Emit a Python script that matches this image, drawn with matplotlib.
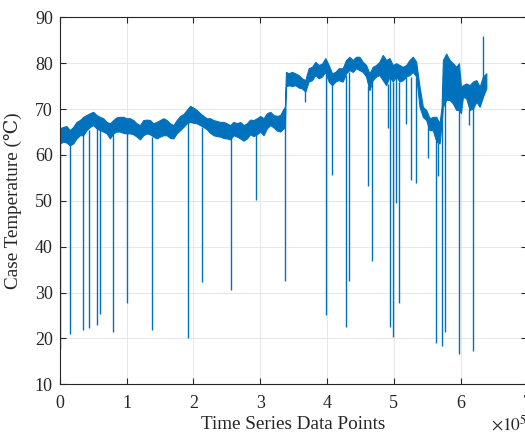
"""Case temperature time series with dropout spikes (MATLAB-style figure)."""

import matplotlib

matplotlib.use("Agg")
import matplotlib.pyplot as plt
from matplotlib.ticker import FuncFormatter, MultipleLocator

LINE = "#0072BD"
FONT = ["Liberation Serif", "DejaVu Serif", "DejaVu Sans"]

# band of the noisy signal: sample index, upper and lower envelope (deg C)
band_x = [
    0, 5000, 10000, 15000, 20000, 25000, 30000, 35000, 40000, 45000,
    50000, 55000, 60000, 65000, 70000, 75000, 80000, 85000, 90000, 95000,
    100000, 105000, 110000, 115000, 120000, 125000, 130000, 135000, 140000, 145000,
    150000, 155000, 160000, 165000, 170000, 175000, 180000, 185000, 190000, 195000,
    200000, 205000, 210000, 215000, 220000, 225000, 230000, 235000, 240000, 245000,
    250000, 255000, 260000, 265000, 270000, 275000, 280000, 285000, 290000, 295000,
    300000, 305000, 310000, 315000, 320000, 325000, 330000, 335000, 337000, 338500,
    342500, 347500, 352500, 357500, 362500, 367500, 372500, 377500, 382500, 387500,
    392500, 397500, 402500, 407500, 412500, 417500, 423500, 428500, 433500, 438500,
    443500, 448500, 453500, 458500, 463500, 468500, 473500, 478500, 483500, 488500,
    493500, 498500, 503500, 508500, 513500, 518500, 523500, 528500, 533500, 538500,
    543500, 548500, 553500, 558500, 563500, 568500, 571500, 573500, 578500, 583500,
    588500, 593500, 597500, 600500, 603500, 608500, 613500, 618500, 623500, 628500,
    633500, 638500,
]
band_hi = [
    65.8, 66.1, 66.3, 65.4, 66.1, 67.2, 67.6, 68.3, 68.7, 69.1,
    69.4, 68.7, 68.3, 68.0, 67.2, 66.9, 67.6, 68.2, 68.3, 68.3,
    68.0, 68.0, 67.6, 66.9, 66.5, 67.6, 67.7, 67.6, 66.9, 67.2,
    67.6, 68.0, 67.6, 66.9, 66.5, 67.6, 68.5, 68.9, 69.8, 70.7,
    70.3, 69.8, 69.1, 68.5, 68.0, 68.0, 67.6, 67.4, 67.2, 67.2,
    66.9, 66.5, 67.2, 66.9, 67.2, 66.5, 66.9, 67.7, 67.6, 68.0,
    68.5, 68.0, 69.1, 69.4, 68.7, 68.5, 68.7, 70.1, 70.5, 78.1,
    77.8, 78.1, 77.8, 77.4, 76.7, 76.3, 78.9, 79.2, 80.3, 79.6,
    79.9, 81.1, 79.6, 77.8, 78.1, 78.9, 78.9, 80.7, 81.4, 80.7,
    81.4, 81.4, 80.3, 79.6, 77.8, 79.2, 79.6, 80.3, 81.8, 80.7,
    81.1, 79.6, 80.0, 79.6, 79.2, 79.6, 80.7, 81.4, 80.3, 74.9,
    70.5, 69.8, 68.0, 68.3, 68.3, 66.9, 70.5, 80.7, 82.1, 80.7,
    80.0, 79.2, 80.0, 74.9, 75.2, 75.6, 75.2, 76.0, 76.3, 74.9,
    77.1, 77.8,
]
band_lo = [
    62.5, 62.9, 62.7, 62.1, 62.5, 63.6, 64.3, 64.3, 65.4, 66.1,
    66.5, 65.8, 65.4, 65.1, 64.7, 63.6, 64.7, 65.1, 65.1, 64.8,
    64.7, 64.7, 64.5, 64.0, 63.4, 64.3, 64.7, 64.5, 64.0, 63.6,
    64.0, 64.3, 64.3, 63.7, 63.6, 64.7, 65.4, 66.1, 66.9, 67.2,
    67.0, 66.9, 66.5, 66.1, 65.6, 64.8, 64.3, 64.1, 64.0, 63.7,
    63.6, 63.4, 64.3, 64.0, 63.6, 63.1, 63.6, 64.5, 64.1, 64.5,
    65.1, 64.3, 65.8, 66.5, 66.0, 65.3, 65.1, 65.8, 66.1, 74.9,
    75.2, 75.0, 75.2, 74.7, 74.5, 73.8, 76.0, 76.3, 77.4, 76.7,
    77.1, 78.1, 76.0, 75.2, 76.0, 76.3, 76.0, 77.8, 78.5, 78.1,
    78.9, 78.5, 78.1, 77.1, 74.1, 76.3, 77.1, 77.4, 76.3, 75.2,
    77.1, 76.0, 77.1, 76.0, 76.3, 77.1, 77.4, 78.1, 77.1, 70.5,
    68.3, 67.6, 65.4, 65.4, 62.9, 62.5, 66.9, 70.5, 72.0, 72.0,
    71.2, 69.8, 69.8, 69.1, 72.7, 72.3, 69.8, 70.1, 71.6, 70.5,
    72.7, 74.5,
]

# isolated spikes: sample index, bottom and top of each excursion (deg C)
spike_x = [
    0, 16000, 34000, 44000, 55000, 60500, 79500, 100000, 138500, 191500,
    213000, 257000, 293500, 337500, 367500, 398500, 408000, 429000, 433000, 462000,
    467500, 491000, 494000, 499500, 503000, 507500, 518500, 525000, 533500, 550500,
    562500, 566000, 572500, 576500, 598000, 612500, 618500, 634000,
]
spike_lo = [
    17.8, 20.9, 21.8, 22.3, 23.0, 25.4, 21.4, 27.8, 21.9, 20.1,
    32.2, 30.5, 50.2, 32.5, 71.6, 25.0, 55.7, 22.5, 32.6, 53.3,
    36.8, 65.9, 22.5, 20.4, 49.5, 27.8, 66.7, 54.5, 53.9, 59.3,
    19.1, 55.4, 18.4, 21.3, 16.7, 66.5, 17.2, 76.0,
]
spike_hi = [
    63.0, 62.5, 64.5, 65.5, 66.0, 65.5, 64.5, 64.7, 64.0, 67.0,
    66.0, 64.0, 64.5, 70.0, 74.0, 78.0, 75.5, 77.5, 78.0, 75.0,
    76.0, 75.5, 77.0, 76.0, 77.0, 76.0, 77.0, 77.0, 77.0, 67.6,
    63.0, 62.5, 70.0, 72.0, 70.0, 70.0, 70.5, 85.9,
]

plt.rcParams.update({"font.family": FONT, "mathtext.fontset": "stix"})

fig = plt.figure(figsize=(5.25, 4.34), dpi=100)
ax = fig.add_axes([0.1139, 0.1145, 0.8907, 0.8456])

ax.fill_between(band_x, band_lo, band_hi, color=LINE, linewidth=0.8, edgecolor=LINE)
ax.vlines(spike_x, spike_lo, spike_hi, color=LINE, linewidth=1.0)

ax.set_xlim(0, 7e5)
ax.set_ylim(10, 90)
ax.xaxis.set_major_locator(MultipleLocator(1e5))
ax.yaxis.set_major_locator(MultipleLocator(10))
ax.xaxis.set_major_formatter(FuncFormatter(lambda v, _: f"{v / 1e5:g}"))
ax.grid(True, color="#e3e3e3", linewidth=0.6)
ax.set_axisbelow(True)
ax.tick_params(direction="in", length=4, width=0.8, top=True, right=True,
               labelsize=13, colors="#262626")
ax.tick_params(axis="x", pad=8)
ax.tick_params(axis="y", pad=5)
for s in ax.spines.values():
    s.set_linewidth(0.8)
    s.set_color("#262626")

ax.set_xlabel("Time Series Data Points", fontsize=13.8, color="#262626")
ax.set_ylabel("Case Temperature (℃)", fontsize=13.8, color="#262626")
ax.xaxis.set_label_coords(0.5, -0.085)
ax.yaxis.set_label_coords(-0.08, 0.5)
fig.text(0.935, 0.0, r"$\times10^5$", fontsize=12.5, color="#262626", va="bottom")

fig.savefig("out.png", dpi=100)
